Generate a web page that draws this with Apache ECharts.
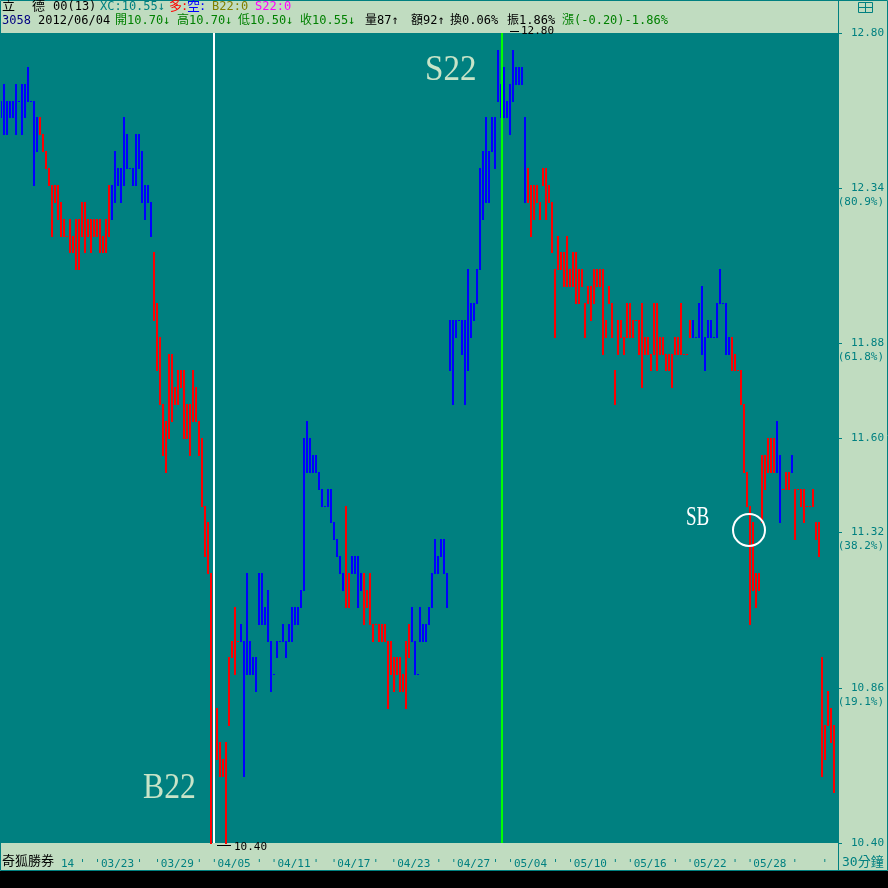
<!DOCTYPE html>
<html><head><meta charset="utf-8">
<script src="https://cdn.jsdelivr.net/npm/echarts@6/dist/echarts.min.js"></script>
<style>html,body{margin:0;padding:0;background:#000;}#c{width:888px;height:888px;}</style>
</head><body><div id="c"></div>
<script>
// ---- data (30-minute bars, price range low..high) ----
const lows = [
12.55,12.50,12.50,12.55,12.55,12.50,12.60,12.50,12.55,12.60,12.60,12.35,12.45,12.50,12.45,12.40,12.35,12.20,12.30,12.25,
12.20,12.20,12.20,12.15,12.15,12.10,12.10,12.20,12.15,12.20,12.15,12.20,12.20,12.15,12.15,12.15,12.20,12.25,12.30,12.35,
12.30,12.35,12.40,12.40,12.35,12.35,12.40,12.30,12.25,12.30,12.20,11.95,11.80,11.70,11.55,11.50,11.60,11.65,11.70,11.70,
11.75,11.60,11.60,11.55,11.65,11.65,11.55,11.40,11.25,11.20,10.40,10.60,10.65,10.60,10.60,10.40,10.75,10.95,10.90,11.00,
11.00,10.60,10.90,10.90,10.90,10.85,11.05,11.05,11.05,11.00,10.85,10.90,10.95,11.00,11.00,10.95,11.00,11.00,11.05,11.05,
11.10,11.15,11.50,11.50,11.50,11.50,11.45,11.40,11.40,11.40,11.35,11.30,11.25,11.20,11.15,11.10,11.10,11.20,11.20,11.10,
11.15,11.05,11.10,11.05,11.00,11.05,11.00,11.00,11.00,10.80,10.90,10.85,10.90,10.85,10.85,10.80,10.95,11.00,10.90,10.90,
11.00,11.00,11.00,11.05,11.10,11.20,11.20,11.25,11.20,11.10,11.80,11.70,11.90,11.95,11.85,11.70,11.80,11.90,11.95,12.00,
12.10,12.25,12.30,12.30,12.45,12.40,12.60,12.55,12.55,12.55,12.50,12.60,12.65,12.65,12.65,12.30,12.30,12.20,12.25,12.30,
12.25,12.35,12.25,12.30,12.15,11.90,12.10,12.10,12.05,12.05,12.05,12.05,12.00,12.00,12.05,11.90,12.00,11.95,12.00,12.05,
12.05,11.85,11.90,12.00,11.90,11.70,11.85,11.90,11.85,11.90,11.90,11.90,11.95,11.85,11.75,11.85,11.85,11.80,11.85,11.80,
11.85,11.85,11.80,11.80,11.75,11.85,11.85,11.85,11.85,11.85,11.90,11.90,11.90,11.90,11.85,11.80,11.90,11.90,11.90,11.90,
12.00,12.00,11.85,11.85,11.80,11.80,11.80,11.70,11.50,11.40,11.05,11.15,11.10,11.15,11.35,11.45,11.50,11.50,11.50,11.50,
11.35,11.45,11.45,11.45,11.50,11.30,11.45,11.40,11.35,11.40,11.40,11.40,11.30,11.25,10.60,10.65,10.75,10.70,10.55,null
];
const highs = [
12.60,12.65,12.60,12.60,12.60,12.65,12.60,12.65,12.65,12.70,12.60,12.60,12.55,12.55,12.50,12.45,12.40,12.35,12.35,12.35,
12.30,12.25,12.20,12.25,12.20,12.25,12.25,12.30,12.30,12.25,12.25,12.25,12.25,12.25,12.20,12.25,12.35,12.35,12.45,12.40,
12.40,12.55,12.50,12.40,12.40,12.50,12.50,12.45,12.35,12.35,12.30,12.15,12.00,11.90,11.70,11.65,11.85,11.85,11.75,11.80,
11.80,11.80,11.70,11.70,11.80,11.75,11.65,11.60,11.40,11.35,11.20,10.65,10.80,10.70,10.65,10.70,10.95,11.00,11.10,11.00,
11.05,11.00,11.20,11.00,10.95,10.95,11.20,11.20,11.10,11.15,11.00,10.90,11.00,11.00,11.05,11.00,11.05,11.10,11.10,11.10,
11.15,11.60,11.65,11.60,11.55,11.55,11.50,11.45,11.40,11.45,11.45,11.35,11.30,11.25,11.20,11.40,11.20,11.25,11.25,11.25,
11.20,11.20,11.15,11.20,11.05,11.05,11.05,11.05,11.05,11.00,11.00,10.95,10.95,10.95,10.90,11.00,11.05,11.10,11.00,10.90,
11.10,11.05,11.05,11.10,11.20,11.30,11.25,11.30,11.30,11.20,11.95,11.95,11.95,11.95,11.95,11.95,12.10,12.00,12.00,12.10,
12.40,12.45,12.55,12.45,12.55,12.55,12.75,12.65,12.70,12.60,12.65,12.75,12.70,12.70,12.70,12.55,12.40,12.35,12.35,12.35,
12.30,12.40,12.40,12.35,12.30,12.10,12.20,12.15,12.15,12.20,12.10,12.15,12.15,12.10,12.10,12.00,12.05,12.05,12.10,12.10,
12.10,12.10,11.95,12.05,12.00,11.80,11.95,11.95,11.90,12.00,12.00,11.95,11.95,11.95,12.00,11.90,11.90,11.85,12.00,12.00,
11.90,11.90,11.85,11.85,11.85,11.90,11.90,12.00,11.85,11.85,11.95,11.95,11.90,12.00,12.05,11.90,11.95,11.95,11.90,12.00,
12.10,12.00,12.00,11.90,11.90,11.85,11.80,11.80,11.70,11.50,11.40,11.35,11.20,11.20,11.55,11.55,11.60,11.60,11.60,11.65,
11.55,11.45,11.50,11.50,11.55,11.45,11.45,11.45,11.45,11.40,11.40,11.45,11.35,11.35,10.95,10.75,10.85,10.80,10.75,null
];
// trend colour of the bars: [firstBar, lastBar, 'b' blue | 'r' red]
const trendSegments = [[0,12,'b'],[13,36,'r'],[37,50,'b'],[51,79,'r'],[80,114,'b'],[115,116,'r'],[117,120,'b'],
  [121,136,'r'],[137,175,'b'],[176,230,'r'],[231,243,'b'],[244,258,'r'],[259,260,'b'],[261,263,'r'],[264,264,'b'],[265,279,'r']];
// right price scale
const priceTicks = [12.80, 12.34, 11.88, 11.60, 11.32, 10.86, 10.40];
const priceTickPct = {'12.34':'(80.9%)','11.88':'(61.8%)','11.32':'(38.2%)','10.86':'(19.1%)'};
// bottom date scale (bar index -> label)
const dateTickIdx  = [11,26,31,45,51,65,70,85,90,104,110,124,130,145,150,164,169,184,189,204,209,224,229,244,249,264,274];
const dateTickText = ["'03/14","'","'03/23","'","'03/29","'","'04/05","'","'04/11","'","'04/17","'","'04/23","'",
  "'04/27","'","'05/04","'","'05/10","'","'05/16","'","'05/22","'","'05/28","'","'"];
// signals
const signals = [{idx:71, name:'B22', color:'#ffffff'}, {idx:167, name:'S22', color:'#00ff00'}];

// ---- build ----
const TEAL='#008080', LG='#c0dcc0', RED='#ff0000', BLUE='#0000ff';
const cats = lows.map((_, i) => 'k' + i);
const colorOf = [];
trendSegments.forEach(([a,b,c]) => { for (let i=a;i<=b;i++) colorOf[i]=c; });
const barData = [];
lows.forEach((lo, i) => { if (lo != null) barData.push([i, lo, highs[i], colorOf[i] === 'r' ? 1 : 0]); });
const dateMap = {}; dateTickIdx.forEach((ix, k) => dateMap[ix] = dateTickText[k]);

const MONO = '"DejaVu Sans Mono","Noto Sans CJK TC",monospace';
function T(x, y, text, fill, size, extra) {
  return Object.assign({type:'text', x:x, y:y, z:100,
    style:{text:text, fill:fill, font:(size||12)+'px '+MONO, textAlign:'left', align:'left',
      textVerticalAlign:'middle', verticalAlign:'middle'}}, extra||{});
}
const SERIF = '"Liberation Serif","DejaVu Serif",serif';
const graphics = [
  {type:'rect', z:0, shape:{x:0, y:871, width:888, height:17}, style:{fill:'#000'}},
  {type:'rect', z:100, shape:{x:0.5, y:0.5, width:887, height:870}, style:{fill:null, stroke:TEAL, lineWidth:1}},
  {type:'line', z:100, shape:{x1:838.5, y1:0, x2:838.5, y2:870}, style:{stroke:TEAL, lineWidth:1}},
  // window icon
  {type:'rect', z:100, shape:{x:858.5, y:2.5, width:14, height:10}, style:{fill:null, stroke:TEAL, lineWidth:1}},
  {type:'line', z:100, shape:{x1:865.5, y1:2.5, x2:865.5, y2:12.5}, style:{stroke:TEAL, lineWidth:1}},
  {type:'line', z:100, shape:{x1:858.5, y1:7.5, x2:872.5, y2:7.5}, style:{stroke:TEAL, lineWidth:1}},
  // header row 1
  T(2,7,'立','#000',13), T(32,7,'德','#000',13), T(53,7,'00(13)','#000'),
  T(100,7,'XC:10.55↓',TEAL), T(169,7,'多','#ff0000',13), T(181,7,':','#ff0000'),
  T(187,7,'空','#0000ff',13), T(199,7,':','#0000ff'), T(212,7,'B22:0','#808000'), T(255,7,'S22:0','#ff00ff'),
  // header row 2
  T(2,21,'3058','#000080'), T(38,21,'2012/06/04','#000'),
  T(115,21,'開10.70↓','#008000'), T(177,21,'高10.70↓','#008000'), T(238,21,'低10.50↓','#008000'), T(300,21,'收10.55↓','#008000'),
  T(365,21,'量87↑','#000'), T(411,21,'額92↑','#000'), T(450,21,'換0.06%','#000'), T(507,21,'振1.86%','#000'),
  T(562,21,'漲(-0.20)-1.86%','#008000'),
  // extreme markers
  {type:'line', z:100, shape:{x1:510, y1:31.5, x2:519, y2:31.5}, style:{stroke:'#000', lineWidth:1}},
  T(521,31,'12.80','#000',11),
  {type:'line', z:100, shape:{x1:217, y1:845.5, x2:231, y2:845.5}, style:{stroke:'#000', lineWidth:1}},
  T(234,847,'10.40','#000',11),
  // bottom strip
  {type:'rect', z:100, shape:{x:1, y:845, width:59, height:24}, style:{fill:LG}},
  T(2,862,'奇狐勝券','#000',13), T(842,863,'30分鐘',TEAL,13),
  // signal texts
  {type:'text', z:100, x:143, y:789, scaleX:0.88, style:{text:'B22', fill:'#c8e4c8', font:'36px '+SERIF, textVerticalAlign:'middle', verticalAlign:'middle'}},
  {type:'text', z:100, x:425, y:71, scaleX:0.92, style:{text:'S22', fill:'#c8e4c8', font:'36px '+SERIF, textVerticalAlign:'middle', verticalAlign:'middle'}},
  {type:'text', z:100, x:686, y:518, scaleX:0.68, style:{text:'SB', fill:'#ffffff', font:'28px '+SERIF, textVerticalAlign:'middle', verticalAlign:'middle'}},
  {type:'circle', z:100, shape:{cx:749, cy:530, r:16}, style:{fill:null, stroke:'#ffffff', lineWidth:2}}
];

const chart = echarts.init(document.getElementById('c'), null, {renderer:'canvas'});
chart.setOption({
  animation:false,
  backgroundColor: LG,
  grid:{left:0, top:33, width:838, height:810, show:true, backgroundColor:TEAL, borderWidth:0},
  xAxis:{type:'category', data:cats, boundaryGap:true,
    axisLine:{show:false}, axisTick:{show:false}, splitLine:{show:false},
    axisLabel:{interval:(i) => dateMap[i] !== undefined, formatter:(v, i) => dateMap[i] || '',
      color:TEAL, fontFamily:MONO, fontSize:11, align:'left', margin:16}},
  yAxis:{type:'value', position:'right', min:10.40, max:12.80, scale:true,
    splitLine:{show:false}, axisLine:{show:false},
    axisTick:{show:true, customValues:priceTicks, length:4, inside:false, lineStyle:{color:TEAL}},
    axisLabel:{customValues:priceTicks, color:TEAL, fontFamily:MONO, fontSize:11, align:'right', margin:46, lineHeight:14,
      formatter:(v) => { const k = (+v).toFixed(2); return priceTickPct[k] ? ' \n' + k + '\n' + priceTickPct[k] : k; }}},
  series:[{type:'custom', data:barData, encode:{x:0, y:[1,2]},
    renderItem:(params, api) => {
      const i = api.value(0);
      const top = api.coord([i, api.value(2)]);
      const bot = api.coord([i, api.value(1)]);
      const x = Math.round(top[0]) - 1;
      const y1 = Math.round(top[1]);
      const y2 = Math.round(bot[1]);
      return {type:'rect', shape:{x:x, y:y1, width:2, height:Math.max(1, y2 - y1 + 1)},
        style:{fill: api.value(3) ? RED : BLUE}};
    },
    markLine:{silent:true, symbol:['none','none'], label:{show:false},
      data: signals.map(s => ({xAxis: cats[s.idx], lineStyle:{color:s.color, width:2, type:'solid'}}))}}],
  graphic: graphics
});
</script></body></html>
